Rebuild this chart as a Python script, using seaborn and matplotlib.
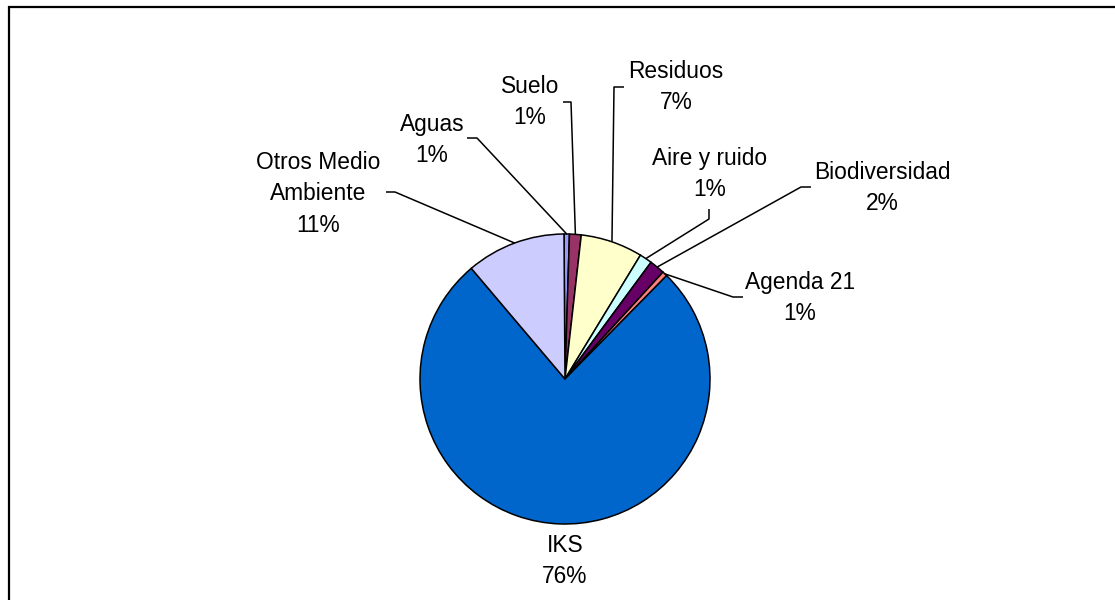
import numpy as np
import matplotlib
matplotlib.use("Agg")
import matplotlib.pyplot as plt
from matplotlib.patches import Rectangle
import seaborn as sns

# ---- data ----
categories = ["Aguas", "Suelo", "Residuos", "Aire y ruido", "Biodiversidad",
              "Agenda 21", "IKS", "Otros Medio\nAmbiente"]
values = [0.6, 1.3, 6.9, 1.4, 1.7, 0.55, 76.3, 11.05]
colors = ["#9999FF", "#993366", "#FFFFCC", "#CCFFFF", "#660066",
          "#FF8080", "#0066CC", "#CCCCFF"]

sns.set_theme(style="white")
plt.rcParams['font.family'] = ['Liberation Sans', 'DejaVu Sans']

W, H = 1115, 600
fig = plt.figure(figsize=(W / 100, H / 100), dpi=100)
fig.patch.set_facecolor("white")
ax = fig.add_axes([0, 0, 1, 1])

def Y(p):
    return H - p

cx, cy, R = 565, Y(379), 145
wedges, _ = ax.pie(values, colors=colors, startangle=90.4, counterclock=False,
                   radius=R, center=(cx, cy),
                   wedgeprops=dict(edgecolor="black", linewidth=1.1))
ax.set_xlim(0, W)
ax.set_ylim(0, H)
ax.axis("off")

# label layout: (text center), stub start, stub end  -- pixel coords
layout = {
    "Aguas": ((432, 140), (467, 138), (477, 138)),
    "Suelo": ((530, 102), (563, 102), (571, 102)),
    "Residuos": ((676, 87), (624, 87), (614, 87)),
    "Aire y ruido": ((710, 174), (709, 209), (709, 219)),
    "Biodiversidad": ((882, 188), (811, 187), (801, 187)),
    "Agenda 21": ((800, 298), (743, 297), (733, 297)),
    "IKS": ((565, 561), None, None),
    "Otros Medio\nAmbiente": ((318, 194), (386, 192), (395, 192)),
}

total = sum(values)
for cat, v, w in zip(categories, values, wedges):
    (tx, ty), s0, s1 = layout[cat]
    pct = f"{int(v / total * 100 + 0.5)}%"
    ax.text(tx, Y(ty), f"{cat}\n{pct}", ha="center", va="center",
            fontsize=16.4, color="black", linespacing=1.45)
    if s0 is not None:
        mid = np.deg2rad((w.theta1 + w.theta2) / 2)
        ex, ey = cx + R * np.cos(mid), cy + R * np.sin(mid)
        ax.plot([s0[0], s1[0], ex], [Y(s0[1]), Y(s1[1]), ey],
                color="black", lw=1.1, solid_capstyle="butt")

ax.add_patch(Rectangle((9, -20), 1200, Y(7) + 20, fill=False,
                       edgecolor="black", lw=1.6, clip_on=False))

fig.savefig("out.png", dpi=100, facecolor="white")
